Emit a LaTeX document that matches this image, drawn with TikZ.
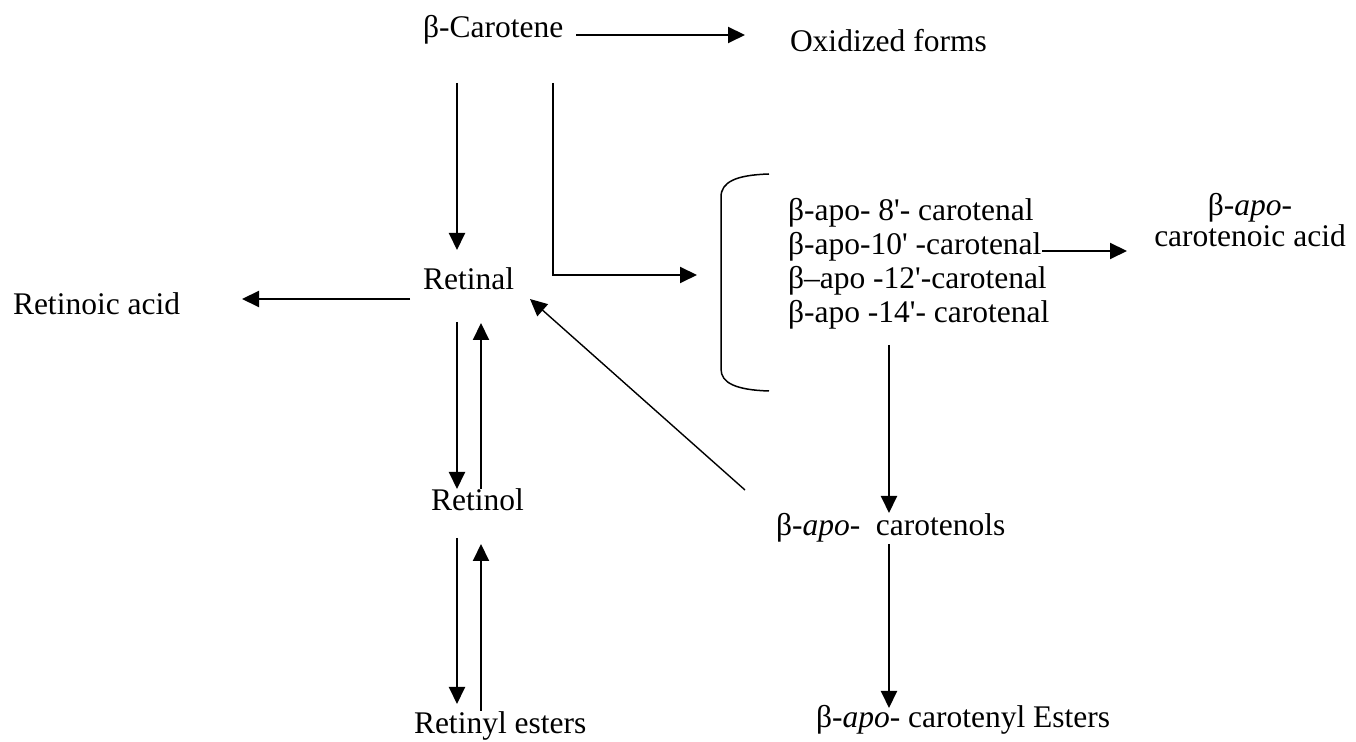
\documentclass[tikz,border=0pt]{standalone}
\usepackage{fontspec}
\setmainfont{Liberation Serif}
\usetikzlibrary{arrows.meta}
\newcommand{\prm}{\textquotesingle}

\begin{document}
\begin{tikzpicture}[x=.5pt, y=-.5pt, >={Triangle[length=8.5pt,width=8pt]}, line width=1pt,
    lbl/.style={inner sep=0, anchor=base west, font=\fontsize{15.75}{17}\selectfont}]
\useasboundingbox (0,0) rectangle (1356,742);
\node[lbl] (car) at (422,38) {β-Carotene};
\node[lbl] (oxi) at (789,52) {Oxidized forms};
\node[lbl] (ral) at (422,290) {Retinal};
\node[lbl] (acid) at (12,315) {Retinoic acid};
\node[lbl] (rol) at (430,511) {Retinol};
\node[lbl] (rest) at (413,734) {Retinyl esters};
\foreach \i/\t in {1/{β-apo- 8\prm- carotenal}, 2/{β-apo-10\prm\ -carotenal},
    3/{β–apo -12\prm-carotenal}, 4/{β-apo -14\prm- carotenal}}
    \node[lbl] (apo\i) at (787,187+34*\i) {\t};
\node[lbl, anchor=base, align=center, font=\fontsize{15.75}{15.5}\selectfont] (capacid) at (1250,247)
    {β-\textit{apo}-\\carotenoic acid};
\node[lbl] (apol) at (775,536) {β-\textit{apo}-\ \ carotenols};
\node[lbl] (apoest) at (815,728) {β-\textit{apo}- carotenyl Esters};
% bracket round the apo-carotenals
\draw[line width=.75pt] (769,174) .. controls (736,175) and (721,182) .. (721,197) -- (721,369)
    .. controls (721,383) and (736,390) .. (769,391);
\coordinate (brk) at (721,283);

\draw[->] ([shift={(154,-3)}]car.base west) -- ([shift={(-44,-17)}]oxi.base west);
\draw[->] ([shift={(35,45)}]car.base west) -- ([shift={(35,-40)}]ral.base west);
\draw[->] ([shift={(131,45)}]car.base west) |- ([shift={(-24,-8)}]brk);
\draw[->] ([shift={(-12,9)}]ral.base west) -- ([shift={(230,-16)}]acid.base west);
\draw[->] ([shift={(35,32)}]ral.base west) -- ([shift={(27,-22)}]rol.base west);
\draw[->] ([shift={(51,-22)}]rol.base west) -- ([shift={(59,33)}]ral.base west);
\draw[->] ([shift={(27,27)}]rol.base west) -- ([shift={(44,-30)}]rest.base west);
\draw[->] ([shift={(68,-23)}]rest.base west) -- ([shift={(51,33)}]rol.base west);
\draw[->, line width=.7pt] ([shift={(-30,-46)}]apol.base west) -- ([shift={(108,9)}]ral.base west);
\draw[->] ([shift={(102,22)}]apo4.base west) -- ([shift={(114,-23)}]apol.base west);
\draw[->] ([shift={(114,8)}]apol.base west) -- ([shift={(74,-20)}]apoest.base west);
\draw[->] ([shift={(0,-4)}]apo2.base east) -- ([shift={(-123,4)}]capacid.base);
\end{tikzpicture}
\end{document}
